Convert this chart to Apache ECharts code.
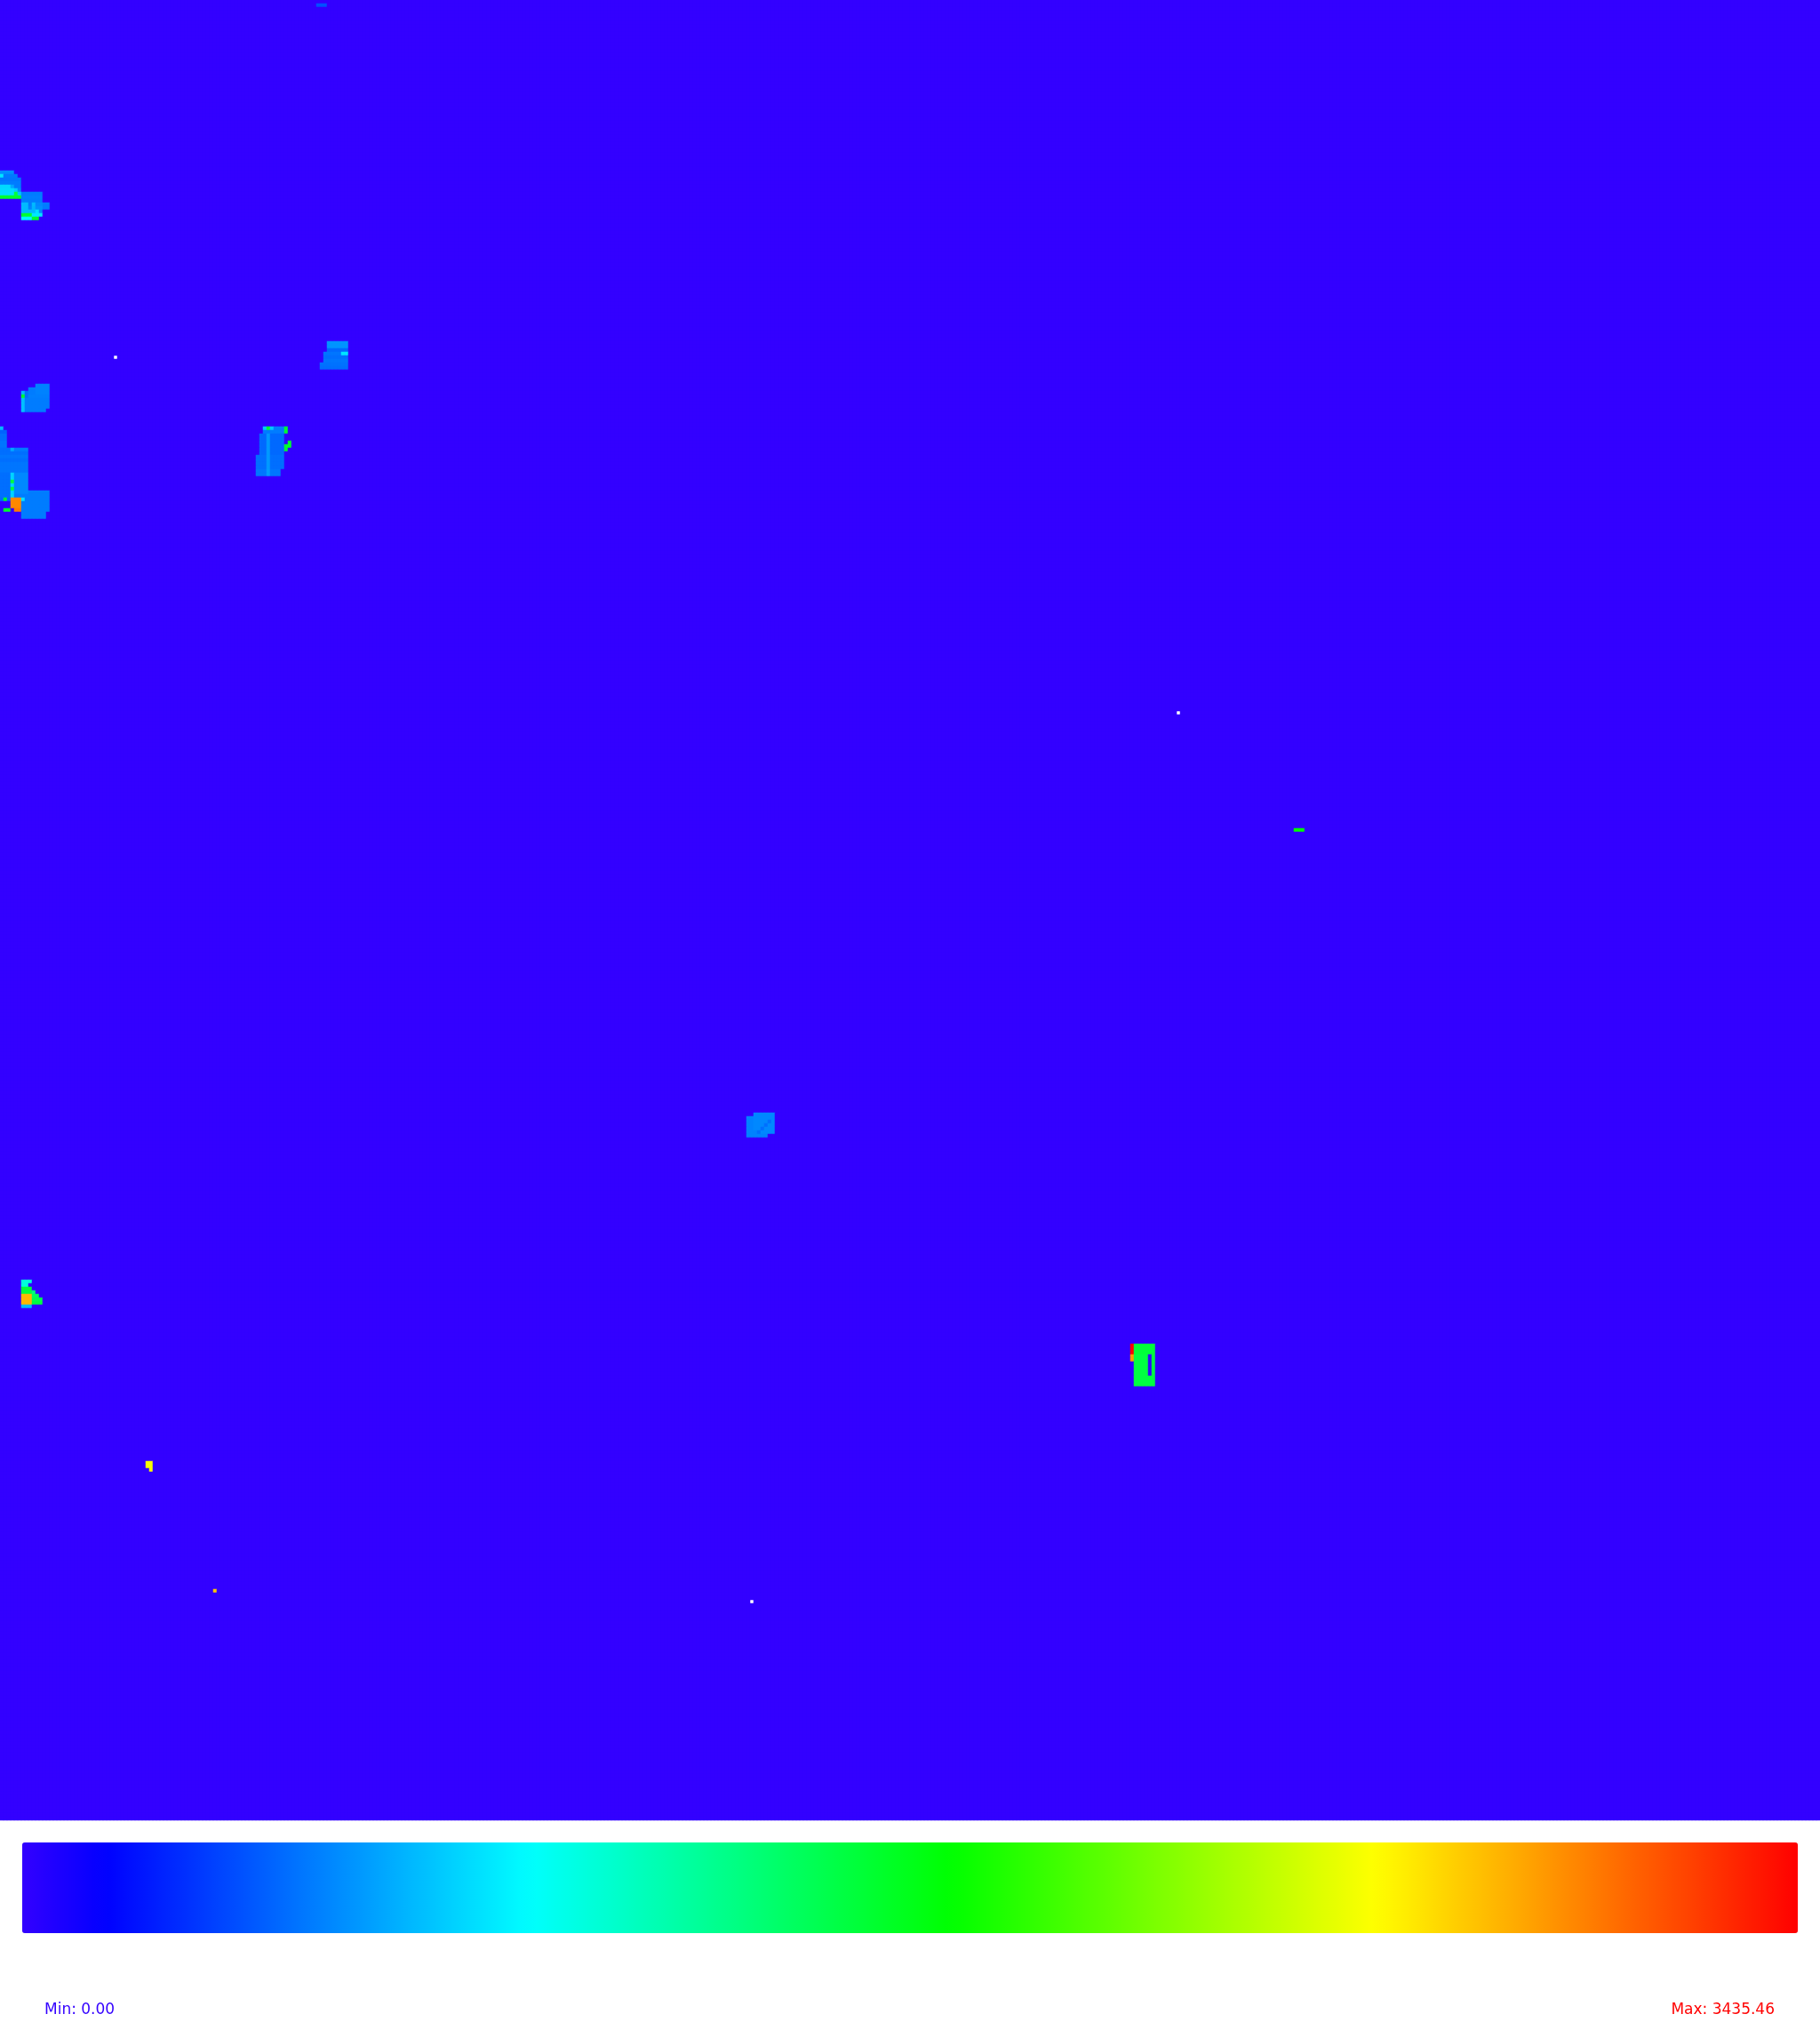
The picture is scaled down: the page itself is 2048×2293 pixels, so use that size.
<!DOCTYPE html>
<html>
<head>
<meta charset="utf-8">
<style>
  html, body { margin: 0; padding: 0; background: #ffffff; }
  #chart { width: 2048px; height: 2293px; }
</style>
<script src="https://cdn.jsdelivr.net/npm/echarts@6/dist/echarts.min.js"></script>
</head>
<body>
<div id="chart"></div>
<script>
// ---- data (grid of 512 x 512 cells, background value 0) ----
const GRID_SIZE = 512;
const valueMin = 0.00;
const valueMax = 3435.46;
const minLabel = 'Min: 0.00';
const maxLabel = 'Max: 3435.46';

// runs: [row, colStart, colEnd, value]
const topDash = [[1, 89, 91, 420]];

const clusterTopLeft = [
  [48, 0, 3, 620],
  [49, 0, 0, 900], [49, 1, 4, 550],
  [50, 0, 5, 540], [51, 0, 5, 560],
  [52, 0, 2, 860], [52, 3, 3, 700], [52, 4, 5, 560],
  [53, 0, 3, 870], [53, 4, 4, 820], [53, 5, 5, 600],
  [54, 0, 3, 880], [54, 4, 4, 1600], [54, 5, 5, 800], [54, 6, 11, 560],
  [55, 0, 5, 1650], [55, 6, 11, 570],
  [56, 6, 11, 560],
  [57, 6, 7, 760], [57, 8, 8, 560], [57, 9, 9, 760], [57, 10, 11, 600], [57, 12, 13, 560],
  [58, 6, 7, 760], [58, 8, 8, 580], [58, 9, 9, 740], [58, 10, 11, 620], [58, 12, 13, 560],
  [59, 6, 9, 760], [59, 10, 10, 880], [59, 11, 11, 600],
  [60, 6, 8, 1650], [60, 9, 11, 900],
  [61, 6, 8, 950], [61, 9, 10, 1650]
];

const patchUpperMid = [
  [96, 92, 97, 640], [97, 92, 97, 640], [98, 92, 97, 500],
  [99, 91, 95, 540], [99, 96, 97, 900],
  [100, 91, 97, 520], [101, 91, 97, 540],
  [102, 90, 97, 530], [103, 90, 97, 520]
];

const patchLeftSmall = [
  [108, 10, 13, 580],
  [109, 8, 9, 560], [109, 10, 13, 580],
  [110, 6, 6, 760], [110, 7, 7, 520], [110, 8, 9, 560], [110, 10, 13, 580],
  [111, 6, 6, 1650], [111, 7, 7, 520], [111, 8, 13, 570],
  [112, 6, 6, 780], [112, 7, 13, 560],
  [113, 6, 6, 780], [113, 7, 13, 560],
  [114, 6, 6, 780], [114, 7, 13, 560],
  [115, 6, 6, 780], [115, 7, 12, 560]
];

const patchColumn = [
  [120, 74, 74, 800], [120, 75, 75, 1650], [120, 76, 76, 800], [120, 77, 79, 560], [120, 80, 80, 1650],
  [121, 74, 79, 560], [121, 80, 80, 1650],
  [122, 73, 79, 500], [122, 75, 75, 650],
  [123, 73, 79, 500], [123, 75, 75, 650],
  [124, 73, 79, 500], [124, 75, 75, 650], [124, 81, 81, 1650],
  [125, 73, 79, 500], [125, 75, 75, 650], [125, 80, 81, 1650],
  [126, 73, 79, 500], [126, 75, 75, 650], [126, 80, 80, 1650],
  [127, 73, 79, 500], [127, 75, 75, 650],
  [128, 72, 79, 520], [128, 75, 75, 650],
  [129, 72, 79, 520], [129, 75, 75, 650],
  [130, 72, 79, 520], [130, 75, 75, 650],
  [131, 72, 79, 520], [131, 75, 75, 650],
  [132, 72, 78, 540], [132, 75, 75, 660],
  [133, 72, 78, 540], [133, 75, 75, 660]
];

const clusterLeftEdge = [
  [120, 0, 0, 760],
  [121, 0, 1, 480],
  [122, 0, 1, 520], [123, 0, 1, 520], [124, 0, 1, 540], [125, 0, 1, 540],
  [126, 0, 2, 520], [126, 3, 3, 700], [126, 4, 7, 560],
  [127, 0, 7, 520], [128, 0, 7, 540], [129, 0, 7, 520], [130, 0, 7, 540], [131, 0, 7, 540],
  [132, 0, 7, 540],
  [133, 0, 2, 520], [133, 3, 3, 840], [133, 4, 7, 600],
  [134, 0, 2, 520], [134, 3, 3, 840], [134, 4, 7, 600],
  [135, 0, 2, 520], [135, 3, 3, 1600], [135, 4, 7, 600],
  [136, 0, 2, 520], [136, 3, 3, 840], [136, 4, 7, 600],
  [137, 0, 2, 520], [137, 3, 3, 1600], [137, 4, 7, 600],
  [138, 0, 2, 520], [138, 3, 3, 840], [138, 4, 7, 600], [138, 8, 13, 560],
  [139, 0, 2, 520], [139, 3, 3, 840], [139, 4, 13, 560],
  [140, 0, 0, 500], [140, 1, 1, 1650], [140, 2, 2, 500], [140, 3, 5, 3000], [140, 6, 6, 900], [140, 7, 13, 560],
  [141, 3, 5, 3000], [141, 6, 13, 560],
  [142, 3, 5, 3000], [142, 6, 13, 560],
  [143, 1, 2, 1650], [143, 4, 5, 3050], [143, 6, 13, 560],
  [144, 6, 12, 560], [145, 6, 12, 560]
];

const greenDash = [[233, 364, 366, 1800]];

const patchCenter = [
  [313, 212, 217, 600],
  [314, 210, 211, 580], [314, 212, 217, 600],
  [315, 210, 211, 580], [315, 212, 215, 600], [315, 216, 216, 520], [315, 217, 217, 600],
  [316, 210, 211, 580], [316, 212, 214, 600], [316, 215, 215, 520], [316, 216, 217, 600],
  [317, 210, 211, 580], [317, 212, 213, 600], [317, 214, 214, 520], [317, 215, 217, 600],
  [318, 210, 212, 580], [318, 213, 213, 520], [318, 214, 217, 600],
  [319, 210, 215, 580]
];

const patchLowerLeft = [
  [360, 6, 8, 1100],
  [361, 6, 7, 1100],
  [362, 6, 8, 1600],
  [363, 6, 8, 1600], [363, 9, 9, 1400],
  [364, 6, 8, 2850], [364, 9, 10, 1500],
  [365, 6, 8, 2850], [365, 9, 11, 1550],
  [366, 6, 8, 2850], [366, 9, 11, 1600],
  [367, 6, 8, 760]
];

const patchGreenBlock = [
  [378, 318, 318, 3435.46], [378, 319, 324, 1620],
  [379, 318, 318, 3435.46], [379, 319, 324, 1620],
  [380, 318, 318, 3435.46], [380, 319, 324, 1620],
  [381, 318, 318, 2950], [381, 319, 322, 1590], [381, 323, 323, 0], [381, 324, 324, 1590],
  [382, 318, 318, 2950], [382, 319, 322, 1590], [382, 323, 323, 0], [382, 324, 324, 1590],
  [383, 319, 322, 1590], [383, 323, 323, 0], [383, 324, 324, 1590],
  [384, 319, 322, 1590], [384, 323, 323, 0], [384, 324, 324, 1590],
  [385, 319, 322, 1590], [385, 323, 323, 0], [385, 324, 324, 1590],
  [386, 319, 322, 1590], [386, 323, 323, 0], [386, 324, 324, 1590],
  [387, 319, 324, 1590], [388, 319, 324, 1590], [389, 319, 324, 1590]
];

const yellowSpots = [
  [411, 41, 42, 2600], [412, 41, 42, 2600], [413, 42, 42, 2600],
  [447, 60, 60, 2800]
];

// cells with no value (drawn as blank): [row, col]
const missingCells = [[100, 32], [200, 331], [450, 211]];

// ---- build heatmap table ----
const allRuns = [].concat(topDash, clusterTopLeft, patchUpperMid, patchLeftSmall,
  patchColumn, clusterLeftEdge, greenDash, patchCenter, patchLowerLeft,
  patchGreenBlock, yellowSpots);

const cells = [];
for (let r = 0; r < GRID_SIZE; r++) cells.push(new Array(GRID_SIZE).fill(valueMin));
allRuns.forEach(([r, c0, c1, v]) => { for (let c = c0; c <= c1; c++) cells[r][c] = v; });
missingCells.forEach(([r, c]) => { cells[r][c] = null; });

const heatData = [];
for (let r = 0; r < GRID_SIZE; r++) {
  for (let c = 0; c < GRID_SIZE; c++) {
    const v = cells[r][c];
    heatData.push([c, r, v === null ? '-' : v]);
  }
}
const xCats = []; const yCats = [];
for (let i = 0; i < GRID_SIZE; i++) { xCats.push(i); yCats.push(i); }

// colour scale: hue 252deg (min) -> 0deg (max), full saturation/value
function hsvHex(h) {
  const s = h / 60, i = Math.floor(s) % 6, f = s - Math.floor(s);
  const q = 1 - f, t = f;
  let rgb;
  switch (i) {
    case 0: rgb = [1, t, 0]; break;
    case 1: rgb = [q, 1, 0]; break;
    case 2: rgb = [0, 1, t]; break;
    case 3: rgb = [0, q, 1]; break;
    case 4: rgb = [t, 0, 1]; break;
    default: rgb = [1, 0, q];
  }
  return '#' + rgb.map(x => Math.round(x * 255).toString(16).padStart(2, '0')).join('');
}
const colorStops = [];
for (let h = 252; h >= 0; h -= 3) colorStops.push(hsvHex(h));

const chart = echarts.init(document.getElementById('chart'), null, { renderer: 'canvas' });
chart.setOption({
  animation: false,
  backgroundColor: '#ffffff',
  grid: { left: 0, top: 0, width: 2048, height: 2048, containLabel: false },
  xAxis: { type: 'category', data: xCats, show: false, splitArea: { show: false } },
  yAxis: { type: 'category', data: yCats, show: false, inverse: true, splitArea: { show: false } },
  visualMap: {
    type: 'continuous',
    min: valueMin,
    max: valueMax,
    orient: 'horizontal',
    left: 25,
    top: 2073,
    itemWidth: 102,
    itemHeight: 1998,
    padding: 0,
    calculable: false,
    realtime: false,
    hoverLink: false,
    text: null,
    showLabel: false,
    inRange: { color: colorStops }
  },
  graphic: [
    { type: 'text', left: 50, top: 2253,
      style: { text: minLabel, fill: '#3300ff', font: '17px "DejaVu Sans"' } },
    { type: 'text', right: 51, top: 2253,
      style: { text: maxLabel, fill: '#ff0000', font: '17px "DejaVu Sans"' } }
  ],
  series: [{
    type: 'heatmap',
    data: heatData,
    progressive: 0,
    silent: true,
    itemStyle: { borderWidth: 0 },
    emphasis: { disabled: true }
  }]
});
</script>
</body>
</html>
